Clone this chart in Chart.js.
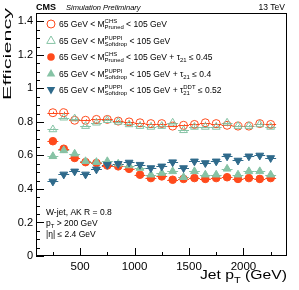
<!DOCTYPE html>
<html>
<head>
<meta charset="utf-8">
<script src="https://cdn.jsdelivr.net/npm/chart.js@4.4.0/dist/chart.umd.min.js"></script>
<style>
  body { margin: 0; background: #fff; }
  #wrap { width: 299px; height: 290px; }
</style>
</head>
<body>
<div id="wrap"><canvas id="eff" width="299" height="290"></canvas></div>
<script>
// jet pT bin centres (GeV), bins are 100 GeV wide
const ptBins = [250, 350, 450, 550, 650, 750, 850, 950, 1050, 1150, 1250, 1350, 1450, 1550, 1650, 1750, 1850, 1950, 2050, 2150, 2250];
const halfBin = 50;
const yErr = 0.006;

const chsPruned = [0.855, 0.855, 0.81, 0.81, 0.815, 0.815, 0.805, 0.80, 0.795, 0.79, 0.79, 0.775, 0.78, 0.785, 0.795, 0.79, 0.78, 0.775, 0.775, 0.79, 0.785];
const puppiSoftdrop = [0.755, 0.825, 0.82, 0.775, 0.795, 0.81, 0.80, 0.785, 0.775, 0.77, 0.775, 0.795, 0.75, 0.77, 0.77, 0.77, 0.795, 0.775, 0.775, 0.785, 0.77];
const chsPrunedTau21 = [0.685, 0.64, 0.585, 0.56, 0.555, 0.54, 0.535, 0.52, 0.485, 0.465, 0.475, 0.455, 0.46, 0.465, 0.46, 0.465, 0.47, 0.46, 0.465, 0.46, 0.465];
const puppiTau21 = [0.595, 0.63, 0.61, 0.565, 0.56, 0.565, 0.55, 0.54, 0.525, 0.485, 0.495, 0.505, 0.47, 0.505, 0.485, 0.485, 0.52, 0.485, 0.505, 0.505, 0.485];
const puppiTau21DDT = [0.445, 0.487, 0.505, 0.487, 0.517, 0.545, 0.55, 0.558, 0.545, 0.525, 0.535, 0.56, 0.525, 0.565, 0.555, 0.565, 0.595, 0.57, 0.595, 0.60, 0.585];

const xTicks = [500, 1000, 1500, 2000];
const xMinorTicks = [250, 750, 1250, 1750, 2250];
const yTicks = [0, 0.2, 0.4, 0.6, 0.8, 1, 1.2, 1.4];

const legendRows = [
  ['65 GeV < M', { sup: 'CHS', sub: 'Pruned' }, ' < 105 GeV'],
  ['65 GeV < M', { sup: 'PUPPI', sub: 'Softdrop' }, ' < 105 GeV'],
  ['65 GeV < M', { sup: 'CHS', sub: 'Pruned' }, ' < 105 GeV + τ', { sub: '21' }, ' ≤ 0.45'],
  ['65 GeV < M', { sup: 'PUPPI', sub: 'Softdrop' }, ' < 105 GeV + τ', { sub: '21' }, ' ≤ 0.4'],
  ['65 GeV < M', { sup: 'PUPPI', sub: 'Softdrop' }, ' < 105 GeV + τ', { sup: 'DDT', sub: '21' }, ' ≤ 0.52'],
];
const infoRows = [
  ['W-jet, AK R = 0.8'],
  ['p', { sub: 'T' }, ' > 200 GeV'],
  ['|η| ≤ 2.4 GeV'],
];

const FONT = "'Liberation Sans', Arial, sans-serif";
const orange = '#ff4a1c';
const teal = '#86c3a5';
const navy = '#2f6a8b';

const series = [
  { values: chsPruned, color: orange, style: 'circle', filled: false, r: 4, rot: 0 },
  { values: puppiSoftdrop, color: teal, style: 'triangle', filled: false, r: 4.5, rot: 0 },
  { values: chsPrunedTau21, color: orange, style: 'circle', filled: true, r: 3.8, rot: 0 },
  { values: puppiTau21, color: teal, style: 'triangle', filled: true, r: 4.5, rot: 0 },
  { values: puppiTau21DDT, color: navy, style: 'triangle', filled: true, r: 4.5, rot: 180 },
];

function font(size, extra) {
  return (extra ? extra + ' ' : '') + size + 'px ' + FONT;
}

// draw text made of plain pieces and {sup, sub} pieces
function richText(ctx, parts, x, y, size) {
  ctx.textAlign = 'left';
  ctx.textBaseline = 'alphabetic';
  const small = size * 0.7;
  parts.forEach((p) => {
    if (typeof p === 'string') {
      ctx.font = font(size);
      ctx.fillText(p, x, y);
      x += ctx.measureText(p).width;
    } else {
      ctx.font = font(small);
      let w = 0;
      if (p.sup) {
        ctx.fillText(p.sup, x, y - size * 0.42);
        w = Math.max(w, ctx.measureText(p.sup).width);
      }
      if (p.sub) {
        ctx.fillText(p.sub, x, y + size * 0.28);
        w = Math.max(w, ctx.measureText(p.sub).width);
      }
      x += w;
    }
  });
  return x;
}

function marker(ctx, s, x, y) {
  ctx.save();
  ctx.translate(x, y);
  ctx.rotate(s.rot * Math.PI / 180);
  ctx.beginPath();
  if (s.style === 'circle') {
    ctx.arc(0, 0, s.r, 0, Math.PI * 2);
  } else {
    const r = s.r;
    ctx.moveTo(0, -r);
    ctx.lineTo(r * 0.95, r * 0.65);
    ctx.lineTo(-r * 0.95, r * 0.65);
    ctx.closePath();
  }
  ctx.lineWidth = 1;
  if (s.filled) {
    ctx.fillStyle = s.color;
    ctx.fill();
  } else {
    ctx.strokeStyle = s.color;
    ctx.stroke();
  }
  ctx.restore();
}

const errorBars = {
  id: 'errorBars',
  beforeDatasetsDraw(chart) {
    const { ctx, scales: { x, y } } = chart;
    ctx.save();
    ctx.lineWidth = 1;
    series.forEach((s) => {
      ctx.strokeStyle = s.color;
      ctx.beginPath();
      ptBins.forEach((pt, i) => {
        const py = Math.round(y.getPixelForValue(s.values[i])) + 0.5;
        const px = Math.round(x.getPixelForValue(pt)) + 0.5;
        ctx.moveTo(x.getPixelForValue(pt - halfBin), py);
        ctx.lineTo(x.getPixelForValue(pt + halfBin), py);
        ctx.moveTo(px, y.getPixelForValue(s.values[i] - yErr));
        ctx.lineTo(px, y.getPixelForValue(s.values[i] + yErr));
      });
      ctx.stroke();
    });
    ctx.restore();
  },
};

const frameAndText = {
  id: 'frameAndText',
  afterDraw(chart) {
    const { ctx, chartArea: a, scales: { x, y } } = chart;
    ctx.save();
    ctx.strokeStyle = '#000';
    ctx.lineWidth = 1;
    ctx.strokeRect(a.left + 0.5, a.top + 0.5, a.right - a.left - 1, a.bottom - a.top - 1);

    // ROOT style ticks, pointing into the frame
    ctx.beginPath();
    xTicks.forEach((v) => {
      const px = Math.round(x.getPixelForValue(v)) + 0.5;
      ctx.moveTo(px, a.bottom);
      ctx.lineTo(px, a.bottom - 8);
    });
    xMinorTicks.forEach((v) => {
      const px = Math.round(x.getPixelForValue(v)) + 0.5;
      ctx.moveTo(px, a.bottom);
      ctx.lineTo(px, a.bottom - 4);
    });
    for (let v = 0; v <= y.max + 1e-9; v += 0.05) {
      const major = Math.abs(v / 0.2 - Math.round(v / 0.2)) < 1e-6;
      const py = Math.round(y.getPixelForValue(v)) + 0.5;
      ctx.moveTo(a.left, py);
      ctx.lineTo(a.left + (major ? 8 : 4), py);
    }
    ctx.stroke();

    ctx.fillStyle = '#000';
    // header
    ctx.textBaseline = 'alphabetic';
    ctx.textAlign = 'left';
    ctx.font = font(9, 'bold');
    ctx.fillText('CMS', 36, 10);
    ctx.font = font(7.5, 'italic');
    ctx.fillText('Simulation Preliminary', 66, 10);
    ctx.textAlign = 'right';
    ctx.font = font(8.5);
    ctx.fillText('13 TeV', 285, 10);

    // y title, stretched along its length like the reference
    ctx.save();
    ctx.font = font(11.5);
    const ew = ctx.measureText('Efficiency').width;
    ctx.translate(11, 8);
    ctx.rotate(-Math.PI / 2);
    ctx.scale(92 / ew, 1);
    ctx.textAlign = 'right';
    ctx.fillText('Efficiency', 0, 0);
    ctx.restore();

    // x title
    ctx.save();
    ctx.font = font(12.5);
    const xw1 = ctx.measureText('Jet p').width;
    ctx.font = font(12.5 * 0.7);
    const xw2 = ctx.measureText('T').width;
    ctx.font = font(12.5);
    const xw3 = ctx.measureText(' (GeV)').width;
    const sx = 87 / (xw1 + xw2 + xw3);
    ctx.translate(287 - 87, 279);
    ctx.scale(sx, 1);
    richText(ctx, ['Jet p', { sub: 'T' }, ' (GeV)'], 0, 0, 12.5);
    ctx.restore();

    // legend
    legendRows.forEach((row, i) => {
      const ly = 24 + i * 16.5;
      marker(ctx, series[i], 51, ly);
      ctx.fillStyle = '#000';
      richText(ctx, row, 59, ly + 3, 8.5);
    });

    infoRows.forEach((row, i) => {
      richText(ctx, row, 46, 215 + i * 11, 8.5);
    });
    ctx.restore();
  },
};

const datasets = series.map((s, i) => ({
  data: ptBins.map((pt, j) => ({ x: pt, y: s.values[j] })),
  pointStyle: s.style,
  pointRadius: s.r,
  rotation: s.rot,
  pointBorderWidth: 1,
  pointBorderColor: s.color,
  pointBackgroundColor: s.filled ? s.color : 'rgba(0,0,0,0)',
  showLine: false,
  order: series.length - i,
}));

new Chart(document.getElementById('eff'), {
  type: 'scatter',
  data: { datasets },
  options: {
    responsive: false,
    animation: false,
    devicePixelRatio: 1,
    layout: { padding: { top: 13, right: 12, left: 0, bottom: 0 } },
    plugins: { legend: { display: false }, tooltip: { enabled: false } },
    scales: {
      x: {
        type: 'linear',
        min: 95,
        max: 2400,
        grid: { display: false, drawTicks: false },
        border: { display: false },
        afterBuildTicks: (scale) => { scale.ticks = xTicks.map((v) => ({ value: v })); },
        afterFit: (scale) => { scale.height = 34; },
        ticks: {
          color: '#000',
          font: { family: FONT, size: 11.5 },
          padding: 4,
          maxRotation: 0,
          autoSkip: false,
          callback: (v) => String(v),
        },
      },
      y: {
        min: 0,
        max: 1.45,
        grid: { display: false, drawTicks: false },
        border: { display: false },
        afterBuildTicks: (scale) => { scale.ticks = yTicks.map((v) => ({ value: v })); },
        afterFit: (scale) => { scale.width = 36; },
        ticks: {
          color: '#000',
          font: { family: FONT, size: 11 },
          padding: 3,
          autoSkip: false,
          callback: (v) => String(v),
        },
      },
    },
  },
  plugins: [errorBars, frameAndText],
});
</script>
</body>
</html>
